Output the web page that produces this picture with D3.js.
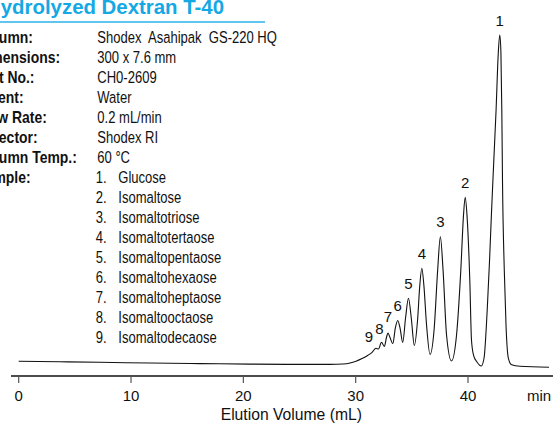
<!DOCTYPE html>
<html>
<head>
<meta charset="utf-8">
<script src="https://cdn.jsdelivr.net/npm/d3@7"></script>
<style>
  html, body { margin: 0; padding: 0; background: #fff; overflow: hidden; }
  svg { display: block; }
  .cond { font-family: "Liberation Sans", Arial, Helvetica, sans-serif; font-size: 16.5px; fill: #111; white-space: pre; }
  .cond.bold { font-weight: bold; }
  .reg { font-family: "Liberation Sans", Arial, Helvetica, sans-serif; fill: #111; }
</style>
</head>
<body>
<div class="chart"></div>
<script>
// conditions block
var title = "Hydrolyzed Dextran T-40";
var condLabels = ["Column:", "Dimensions:", "Part No.:", "Eluent:", "Flow Rate:", "Detector:", "Column Temp.:", "Sample:"];
var condValues = ["Shodex  Asahipak  GS-220 HQ", "300 x 7.6 mm", "CH0-2609", "Water", "0.2 mL/min", "Shodex RI", "60 °C"];
var sampleNames = ["Glucose", "Isomaltose", "Isomaltotriose", "Isomaltotertaose", "Isomaltopentaose",
                   "Isomaltohexaose", "Isomaltoheptaose", "Isomaltooctaose", "Isomaltodecaose"];

// axis
var xTicks = [0, 10, 20, 30, 40];
var xUnit = "min";
var xTitle = "Elution Volume (mL)";

// chromatogram trace: elution volume (mL), detector response (rel.)
var traceVol = [0.00, 3.68, 7.24, 11.69, 16.14, 20.59, 25.04, 27.71, 28.87, 29.50,
                30.03, 30.57, 31.10, 31.46, 31.81, 32.03, 32.30, 32.55, 32.75, 32.88,
                33.04, 33.31, 33.53, 33.74, 33.95, 34.19, 34.44, 34.70, 34.95, 35.22,
                35.51, 35.71, 35.89, 36.07, 36.31, 36.62, 36.98, 37.30, 37.54, 37.78,
                38.09, 38.53, 38.98, 39.36, 39.60, 39.75, 39.91, 40.16, 40.31, 40.49,
                40.80, 41.18, 41.43, 41.71, 41.92, 42.10, 42.30, 42.50, 42.70, 42.83,
                42.93, 43.01, 43.07, 43.23, 43.39, 43.59, 43.89, 44.63, 47.21];
var traceSig = [2.01, 1.86, 1.71, 1.50, 1.32, 1.17, 1.08, 1.08, 1.20, 1.50,
                2.04, 2.82, 3.84, 4.71, 5.92, 5.71, 7.72, 6.46, 9.30, 10.51,
                9.30, 7.36, 12.0, 14.26, 12.0, 7.66, 15.0, 20.93, 15.0, 6.76,
                14.4, 24.9, 29.94, 24.9, 12.9, 4.05, 11.4, 29.4, 39.43, 29.4,
                9.9, 2.10, 9.9, 29.4, 45.9, 51.26, 45.9, 26.4, 8.4, 3.9,
                1.8, 0.60, 3.0, 17.4, 32.4, 47.4, 62.5, 77.5, 94.9, 100,
                94.9, 77.5, 56.5, 29.4, 12.3, 3.0, 0.96, 0.51, 0.21];

// peak labels
var peakNums = ["1", "2", "3", "4", "5", "6", "7", "8", "9"];
var peakVol  = [42.83, 39.75, 37.54, 35.89, 34.70, 33.74, 32.88, 32.30, 31.81];
var peakSig  = [100, 51.26, 39.43, 29.94, 20.93, 14.26, 10.51, 7.72, 5.92];

var W = 553, H = 423;
var axisY = 376;
var squeezeLabel = 0.846, squeezeValue = 0.79;   // condensed face look

var x = d3.scaleLinear().domain([0, 40]).range([18.7, 468]);
var y = d3.scaleLinear().domain([0, 100]).range([368, 35]);

var svg = d3.select(".chart").append("svg")
    .attr("width", W)
    .attr("height", H);

// title + rule
svg.append("text")
    .attr("class", "reg")
    .attr("x", 224)
    .attr("y", 13.5)
    .attr("text-anchor", "end")
    .style("font-size", "20.4px")
    .style("font-weight", "bold")
    .style("fill", "#14a8e4")
    .text(title);

svg.append("line")
    .attr("x1", 0).attr("x2", 265)
    .attr("y1", 22).attr("y2", 22)
    .attr("stroke", "#2cb3ea")
    .attr("stroke-width", 1.6);

// conditions
var rowH = 19.97, row0 = 43;
function place(px, sx) {
    return function(d, i) {
        return "translate(" + px + "," + (row0 + i * rowH) + ") scale(" + sx + ",1)";
    };
}

svg.selectAll(".clabel").data(condLabels).enter().append("text")
    .attr("class", "cond bold clabel")
    .attr("transform", place(-23.6, squeezeLabel))
    .text(function(d) { return d; });

svg.selectAll(".cvalue").data(condValues).enter().append("text")
    .attr("class", "cond cvalue")
    .attr("transform", place(97.3, squeezeValue))
    .text(function(d) { return d; });

var samples = svg.append("g")
    .attr("transform", "translate(0," + (7 * rowH) + ")");

samples.selectAll(".snum").data(sampleNames).enter().append("text")
    .attr("class", "cond snum")
    .attr("transform", place(95.7, squeezeValue))
    .text(function(d, i) { return (i + 1) + "."; });

samples.selectAll(".sname").data(sampleNames).enter().append("text")
    .attr("class", "cond sname")
    .attr("transform", place(118.3, squeezeValue))
    .text(function(d) { return d; });

// chromatogram
var trace = traceVol.map(function(v, i) { return [v, traceSig[i]]; });
var line = d3.line()
    .x(function(d) { return x(d[0]); })
    .y(function(d) { return y(d[1]); })
    .curve(d3.curveMonotoneX);

svg.append("path")
    .datum(trace)
    .attr("d", line)
    .attr("fill", "none")
    .attr("stroke", "#111")
    .attr("stroke-width", 1.1);

// peak numbers
var nudge = { "8": [-2, 1], "9": [-7, 3], "7": [0, -2] };
svg.selectAll(".plabel").data(peakNums).enter().append("text")
    .attr("class", "reg plabel")
    .attr("text-anchor", "middle")
    .style("font-size", "15px")
    .attr("x", function(d, i) { return x(peakVol[i]) + (nudge[d] ? nudge[d][0] : 0); })
    .attr("y", function(d, i) { return y(peakSig[i]) - 9.5 + (nudge[d] ? nudge[d][1] : 0); })
    .text(function(d) { return d; });

// x axis
var axis = svg.append("g")
    .attr("transform", "translate(0," + axisY + ")");

axis.append("line")
    .attr("x1", 11).attr("x2", W)
    .attr("stroke", "#111")
    .attr("stroke-width", 1.3);

axis.selectAll(".tick").data(xTicks).enter().append("line")
    .attr("x1", function(d) { return x(d); })
    .attr("x2", function(d) { return x(d); })
    .attr("y1", 0).attr("y2", 7)
    .attr("stroke", "#555")
    .attr("stroke-width", 1.2);

axis.selectAll(".tlabel").data(xTicks).enter().append("text")
    .attr("class", "reg tlabel")
    .attr("x", function(d) { return x(d); })
    .attr("y", 24.7)
    .attr("text-anchor", "middle")
    .style("font-size", "15px")
    .text(function(d) { return d; });

axis.append("text")
    .attr("class", "reg")
    .attr("x", 527)
    .attr("y", 24.7)
    .style("font-size", "15px")
    .text(xUnit);

axis.append("text")
    .attr("class", "reg")
    .attr("x", 291.3)
    .attr("y", 43.5)
    .attr("text-anchor", "middle")
    .style("font-size", "15.7px")
    .text(xTitle);
</script>
</body>
</html>
